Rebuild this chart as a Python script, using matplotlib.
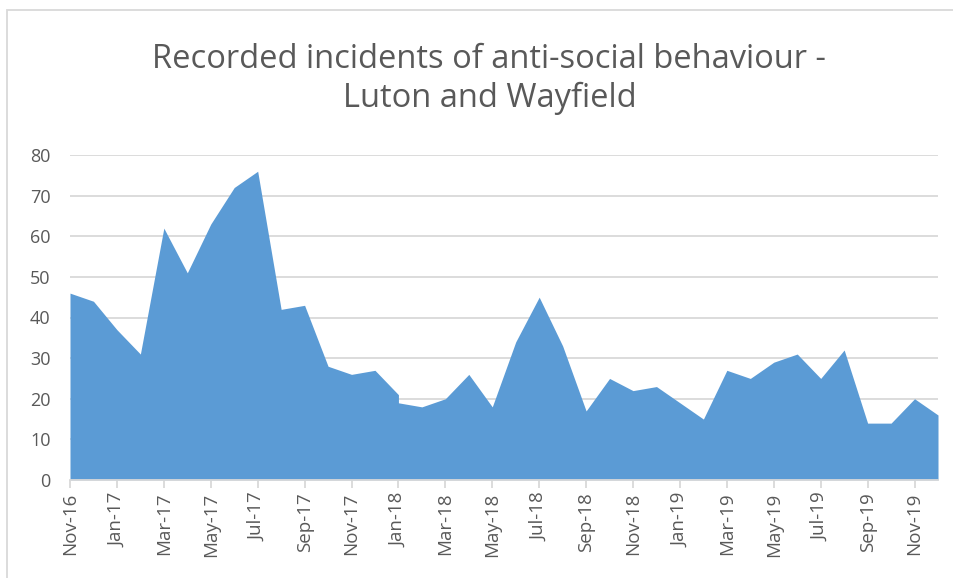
import matplotlib.pyplot as plt
from matplotlib.patches import Rectangle
import numpy as np

# monthly counts, Nov-16 .. Dec-19 (Jan-18 appears twice in the source data)
months = ["Nov-16", "Dec-16",
          "Jan-17", "Feb-17", "Mar-17", "Apr-17", "May-17", "Jun-17",
          "Jul-17", "Aug-17", "Sep-17", "Oct-17", "Nov-17", "Dec-17",
          "Jan-18", "Jan-18", "Feb-18", "Mar-18", "Apr-18", "May-18", "Jun-18",
          "Jul-18", "Aug-18", "Sep-18", "Oct-18", "Nov-18", "Dec-18",
          "Jan-19", "Feb-19", "Mar-19", "Apr-19", "May-19", "Jun-19",
          "Jul-19", "Aug-19", "Sep-19", "Oct-19", "Nov-19", "Dec-19"]
incidents = [46, 44,
             37, 31, 62, 51, 63, 72,
             76, 42, 43, 28, 26, 27,
             21, 19, 18, 20, 26, 18, 34,
             45, 33, 17, 25, 22, 23,
             19, 15, 27, 25, 29, 31,
             25, 32, 14, 14, 20, 16]

# month index on the axis (duplicate month shares a position)
uniq = list(dict.fromkeys(months))
xpos = [uniq.index(m) for m in months]
tick_idx = list(range(0, len(uniq), 2))
tick_labels = [uniq[i] for i in tick_idx]

plt.rcParams['font.family'] = ['Open Sans', 'DejaVu Sans']

fig = plt.figure(figsize=(9.54, 5.78), dpi=100)
ax = fig.add_axes([70 / 954, 1 - 480 / 578, (938 - 70) / 954, (480 - 155) / 578])

ax.fill_between(xpos, incidents, 0, color="#5b9bd5", linewidth=0)

ax.set_xlim(0, len(uniq) - 1)
ax.set_ylim(0, 80)
ax.set_yticks(np.arange(0, 81, 10))
ax.set_xticks(tick_idx)
ax.set_xticklabels(tick_labels, rotation=90)

ax.grid(axis="y", color="#d9d9d9", linewidth=1.3)
ax.set_axisbelow(True)
for s in ["top", "right", "left"]:
    ax.spines[s].set_visible(False)
ax.spines["bottom"].set_color("#d9d9d9")
ax.spines["bottom"].set_linewidth(1.3)
ax.tick_params(axis="y", length=0, pad=14, labelsize=13, labelcolor="#595959")
ax.tick_params(axis="x", length=6, color="#d9d9d9", width=1.3, pad=3,
               labelsize=13.5, labelcolor="#595959")

fig.text(0.513, 1 - 79 / 578, "Recorded incidents of anti-social behaviour -\nLuton and Wayfield",
         ha="center", va="center", fontsize=23.5, color="#595959", linespacing=1.25)

fig.patches.append(Rectangle((7 / 954, -0.01), 1.0, 1 - 10 / 578 + 0.01,
                             transform=fig.transFigure, fill=False,
                             edgecolor="#d9d9d9", linewidth=1.3))

fig.savefig("out.png", dpi=100)
